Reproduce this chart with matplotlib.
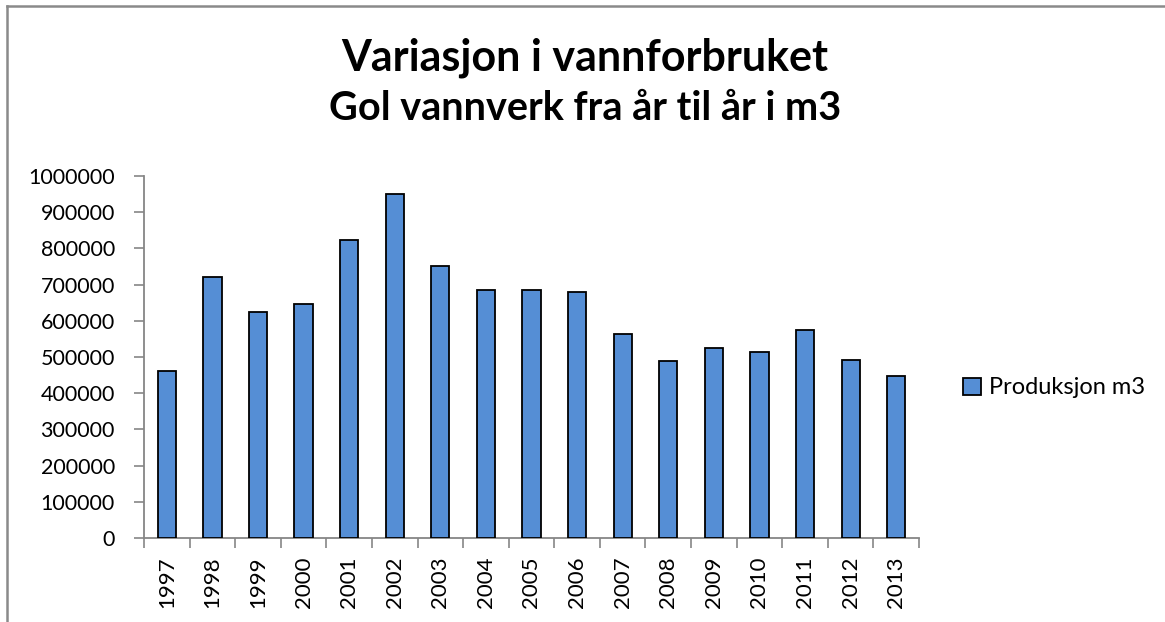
import matplotlib
matplotlib.use("Agg")
import matplotlib.pyplot as plt
from matplotlib.lines import Line2D
from matplotlib.patches import Patch

years = ["1997", "1998", "1999", "2000", "2001", "2002", "2003", "2004", "2005",
         "2006", "2007", "2008", "2009", "2010", "2011", "2012", "2013"]
produksjon = [461000, 722000, 625000, 646000, 823000, 950000, 751000, 685000, 684000,
              679000, 564000, 490000, 526000, 514000, 574000, 493000, 448000]
series_name = "Produksjon m3"
title_line1 = "Variasjon i vannforbruket"
title_line2 = "Gol vannverk fra år til år i m3"

plt.rcParams['font.family'] = ['Lato', 'DejaVu Sans']

W, H = 1165, 622
fig = plt.figure(figsize=(W / 100, H / 100), dpi=100)
fig.patch.set_facecolor("white")

ax = fig.add_axes([144 / W, 1 - 538 / H, (919 - 144) / W, (538 - 176) / H])
x = list(range(len(years)))
bars = ax.bar(x, produksjon, width=0.4, color="#558ED5", edgecolor="black",
              linewidth=1.3, label=series_name, zorder=3)

ax.set_xlim(-0.5, len(years) - 0.5)
ax.set_ylim(0, 1000000)
ax.set_yticks(range(0, 1000001, 100000))
ax.set_yticklabels([str(v) for v in range(0, 1000001, 100000)], fontsize=15.5)
ax.set_xticks(x)
ax.set_xticklabels(years, rotation=90, fontsize=16, va="top")
ax.set_xticks([i - 0.5 for i in range(len(years) + 1)], minor=True)
ax.tick_params(axis="x", which="major", length=0, pad=13.5)
ax.tick_params(axis="x", which="minor", length=7, width=1.2, color="#868686", direction="out")
ax.tick_params(axis="y", length=7, width=1.2, color="#868686", direction="out", pad=14)
for s in ["top", "right"]:
    ax.spines[s].set_visible(False)
for s in ["left", "bottom"]:
    ax.spines[s].set_color("#868686")
    ax.spines[s].set_linewidth(1.3)

fig.text(585 / W, 1 - 58 / H, title_line1, ha="center", va="center", fontsize=31,
         fontweight="bold")
fig.text(585 / W, 1 - 109 / H, title_line2, ha="center", va="center", fontsize=28.5,
         fontweight="bold")

handle = Patch(facecolor="#558ED5", edgecolor="black", linewidth=1.3)
fig.legend([handle], [series_name], loc="center left",
           bbox_to_anchor=(954 / W, 1 - 388 / H), frameon=False, fontsize=17,
           handlelength=0.75, handleheight=0.75, handletextpad=0.35, borderaxespad=0)

fig.add_artist(Line2D([7 / W, 7 / W], [0, 1 - 6 / H], color="#8a8a8a", lw=1.8,
                      transform=fig.transFigure))
fig.add_artist(Line2D([7 / W, 1], [1 - 6 / H, 1 - 6 / H], color="#8a8a8a", lw=1.8,
                      transform=fig.transFigure))

fig.savefig("out.png", dpi=100, facecolor="white")
